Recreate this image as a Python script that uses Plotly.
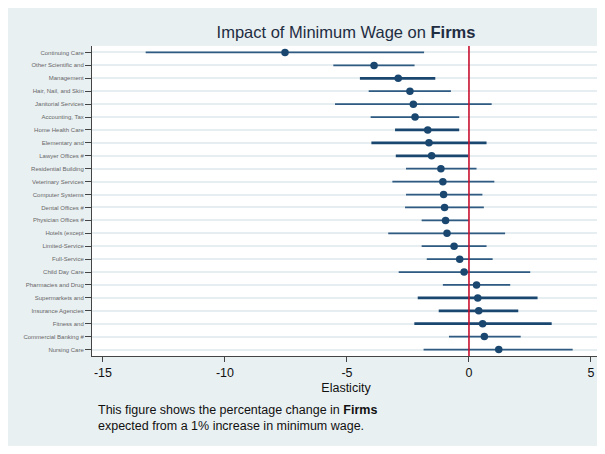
import plotly.graph_objects as go

categories = [
    "Continuing Care", "Other Scientific and", "Management", "Hair, Nail, and Skin",
    "Janitorial Services", "Accounting, Tax", "Home Health Care", "Elementary and",
    "Lawyer Offices #", "Residential Building", "Veterinary Services", "Computer Systems",
    "Dental Offices #", "Physician Offices #", "Hotels (except", "Limited-Service",
    "Full-Service", "Child Day Care", "Pharmacies and Drug", "Supermarkets and",
    "Insurance Agencies", "Fitness and", "Commercial Banking #", "Nursing Care",
]
estimate = [-7.54, -3.89, -2.90, -2.42, -2.28, -2.21, -1.69, -1.64, -1.53, -1.15,
            -1.07, -1.04, -1.00, -0.96, -0.90, -0.61, -0.38, -0.20, 0.31, 0.36,
            0.40, 0.56, 0.63, 1.22]
lower = [-13.25, -5.56, -4.47, -4.11, -5.49, -4.03, -3.03, -4.00, -3.00, -2.58,
         -3.14, -2.58, -2.62, -1.94, -3.31, -1.94, -1.73, -2.88, -1.07, -2.10,
         -1.24, -2.24, -0.82, -1.86]
upper = [-1.84, -2.23, -1.38, -0.74, 0.93, -0.40, -0.40, 0.72, -0.03, 0.31,
         1.04, 0.55, 0.61, -0.01, 1.48, 0.72, 0.97, 2.51, 1.69, 2.81,
         2.02, 3.39, 2.12, 4.25]
x_ticks = [-15, -10, -5, 0, 5]

# style: which rows use heavier CI lines
heavy = {"Management", "Home Health Care", "Elementary and", "Lawyer Offices #",
         "Supermarkets and", "Insurance Agencies", "Fitness and"}

navy = "#1a476f"
bg = "#e9f0f2"
# the page body adds an 8px offset, so the figure is sized to fit the window
W, H = 597, 438
L, R, T, B = 84, 5, 38, 90

fig = go.Figure()

rows = list(range(len(categories)))

for is_heavy, width, col in [(False, 1.8, "#2f5a82"), (True, 2.8, navy)]:
    xs, ys = [], []
    for i, c in enumerate(categories):
        if (c in heavy) == is_heavy:
            xs += [lower[i], upper[i], None]
            ys += [i, i, None]
    fig.add_trace(go.Scatter(x=xs, y=ys, mode="lines",
                             line=dict(color=col, width=width),
                             hoverinfo="skip", showlegend=False))

fig.add_trace(go.Scatter(x=estimate, y=rows, mode="markers",
                         marker=dict(color=navy, size=7.5, symbol="circle"),
                         text=categories, showlegend=False))

pw = W - L - R
ph = H - T - B
fig.add_shape(type="rect", xref="paper", yref="paper", x0=0, x1=1, y0=0, y1=1,
              fillcolor="white", line=dict(width=0), layer="below")

fig.add_vline(x=0, line=dict(color="#c8102e", width=1.6))

fig.update_layout(
    width=W, height=H,
    margin=dict(l=L, r=R, t=T, b=B),
    paper_bgcolor=bg, plot_bgcolor="rgba(0,0,0,0)",
    font=dict(family="Liberation Sans, Arial, sans-serif", color="#222"),
    title=dict(text="Impact of Minimum Wage on <b>Firms</b>",
               x=(L + pw / 2) / W, xanchor="center", y=1 - 24 / H, yanchor="middle",
               font=dict(size=16.5, color="#1f2d42")),
    xaxis=dict(range=[-15.45, 5.37], tickvals=x_ticks, ticktext=[str(v) for v in x_ticks],
               showgrid=False, zeroline=False, showline=True, linecolor="#444",
               linewidth=1, ticks="outside", ticklen=5, tickcolor="#444",
               tickfont=dict(size=12.5, color="#111"), automargin=False,
               title=dict(text="Elasticity", font=dict(size=12.5, color="#111"), standoff=4)),
    yaxis=dict(range=[23.5, -0.5], tickvals=rows, ticktext=categories,
               showgrid=True, gridcolor="#e6eef1", gridwidth=1.5,
               zeroline=False, showline=True, linecolor="#444", linewidth=1,
               ticks="outside", ticklen=6, tickcolor="#444", automargin=False,
               tickfont=dict(size=6, color="#666")),
)

fig.add_annotation(xref="paper", yref="paper", x=(88 - L) / pw, y=-(410 - T - ph) / ph,
                   xanchor="left", yanchor="middle", align="left", showarrow=False,
                   text="This figure shows the percentage change in <b>Firms</b><br>"
                        "expected from a 1% increase in minimum wage.",
                   font=dict(size=12.5, color="#111"))

fig.write_html("out.html")
